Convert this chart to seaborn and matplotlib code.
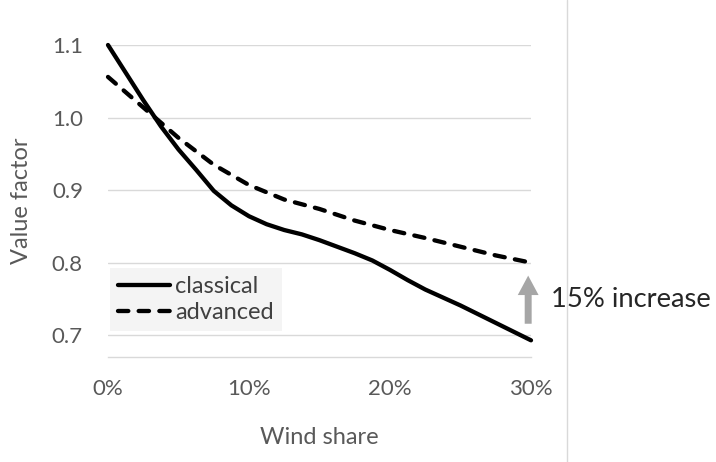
"""
Value factor vs wind share: classical vs advanced
"""

import matplotlib.pyplot as plt
import seaborn as sns
import pandas as pd
from matplotlib.lines import Line2D

# data (wind share in %)
classical_x = [0, 1.25, 2.5, 3.75, 5, 6.25, 7.5, 8.75, 10, 11.25, 12.5,
               13.75, 15, 16.25, 17.5, 18.75, 20, 21.25, 22.5, 25, 27.5, 30]
classical = [1.100, 1.062, 1.024, 0.988, 0.956, 0.928, 0.899, 0.879, 0.864,
             0.853, 0.845, 0.839, 0.831, 0.822, 0.813, 0.803, 0.790, 0.776,
             0.763, 0.741, 0.717, 0.693]
advanced_x = [0, 2.5, 5, 7.5, 10, 12.5, 15, 17.5, 20, 22.5, 25, 27.5, 30]
advanced = [1.056, 1.014, 0.972, 0.935, 0.907, 0.887, 0.874, 0.858, 0.845,
            0.834, 0.822, 0.810, 0.800]
x_ticks = [0, 10, 20, 30]
x_tick_labels = ["0%", "10%", "20%", "30%"]
y_ticks = [0.7, 0.8, 0.9, 1.0, 1.1]
y_tick_labels = ["0.7", "0.8", "0.9", "1.0", "1.1"]
annotation = "15% increase"

df = pd.concat([
    pd.DataFrame({"wind": classical_x, "value": classical, "series": "classical"}),
    pd.DataFrame({"wind": advanced_x, "value": advanced, "series": "advanced"}),
], ignore_index=True)

sns.set_style("white")
plt.rcParams["font.family"] = ["Lato", "DejaVu Sans"]

GREY_TXT = "#595959"
GRID = "#d9d9d9"
LW = 3.1
DASH = (2.4, 2.4)

fig = plt.figure(figsize=(7.16, 4.62), dpi=100)
ax = fig.add_axes([108 / 716, 1 - 357 / 462, 423 / 716, 312 / 462])

for y in y_ticks:
    ax.axhline(y, color=GRID, lw=1.0, zorder=0)

sns.lineplot(
    data=df, x="wind", y="value", hue="series", style="series",
    palette={"classical": "black", "advanced": "black"},
    dashes={"classical": "", "advanced": DASH},
    linewidth=LW, ax=ax, legend=False, clip_on=False,
    dash_capstyle="round", solid_capstyle="round",
)

ax.set_xlim(0, 30)
ax.set_ylim(0.67, 1.1)
ax.set_xticks(x_ticks)
ax.set_xticklabels(x_tick_labels)
ax.set_yticks(y_ticks)
ax.set_yticklabels(y_tick_labels)
ax.tick_params(axis="x", direction="out", length=7, width=1, color=GRID,
               pad=9, labelsize=16, labelcolor=GREY_TXT)
ax.tick_params(axis="y", length=0, pad=18, labelsize=16, labelcolor=GREY_TXT)

for side in ["top", "right", "left"]:
    ax.spines[side].set_visible(False)
ax.spines["bottom"].set_color(GRID)
ax.spines["bottom"].set_linewidth(1.0)

ax.set_xlabel("Wind share", fontsize=17, color=GREY_TXT, va="center")
ax.set_ylabel("Value factor", fontsize=17, color=GREY_TXT, va="center")
ax.xaxis.set_label_coords(0.5, (357 - 438) / 312)
ax.yaxis.set_label_coords((22 - 108) / 423, 0.5)

handles = [
    Line2D([], [], color="black", lw=LW, solid_capstyle="round"),
    Line2D([], [], color="black", lw=LW, dashes=DASH, dash_capstyle="round"),
]
leg = ax.legend(
    handles, ["classical", "advanced"], loc="lower left",
    bbox_to_anchor=(0.005, 0.083), borderaxespad=0, frameon=True,
    fancybox=False, fontsize=17, handlelength=2.2, handletextpad=0.2,
    labelspacing=0.2, borderpad=0.35,
)
leg.get_frame().set_facecolor("#f2f2f2")
leg.get_frame().set_edgecolor("none")
for t in leg.get_texts():
    t.set_color("#404040")

# grey arrow between the two curves at 30%
ax.annotate(
    "", xy=(29.8, 0.786), xytext=(29.8, 0.712),
    arrowprops=dict(arrowstyle="simple,head_width=0.75,head_length=0.7,tail_width=0.25",
                    mutation_scale=20, color="#a6a6a6", lw=0),
    annotation_clip=False,
)
ax.text(31.4, 0.749, annotation, fontsize=19.7, color="#262626",
        va="center", ha="left", clip_on=False)

# thin vertical separator on the right
fig.add_artist(Line2D([567 / 716, 567 / 716], [0, 1], color=GRID, lw=1.0))

fig.savefig("out.png", dpi=100)
